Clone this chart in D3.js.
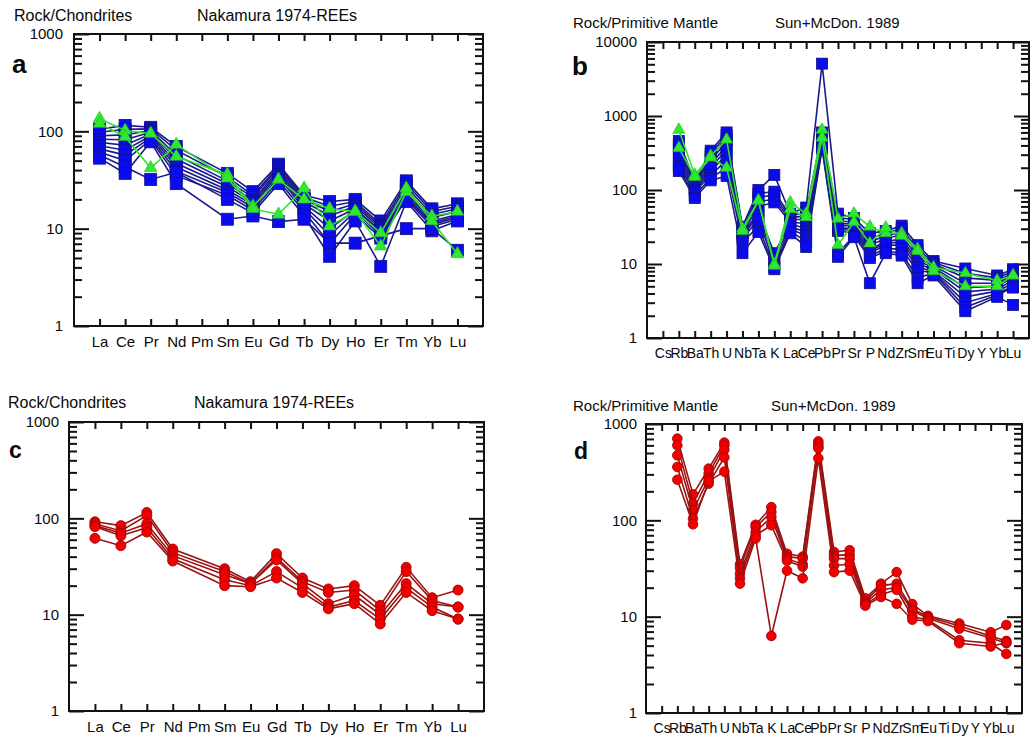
<!DOCTYPE html>
<html>
<head>
<meta charset="utf-8">
<script src="https://cdn.jsdelivr.net/npm/d3@7"></script>
<style>
  html, body { margin: 0; padding: 0; background: #fff; }
  svg { display: block; }
  text { font-family: "Liberation Sans", Arial, sans-serif; fill: #0a0a0a; }
</style>
</head>
<body>
<svg id="chart" width="1030" height="738"></svg>
<script>
// Element orders for the two diagram types
const reeElements = ["La","Ce","Pr","Nd","Pm","Sm","Eu","Gd","Tb","Dy","Ho","Er","Tm","Yb","Lu"];
const spiderElements = ["Cs","Rb","Ba","Th","U","Nb","Ta","K","La","Ce","Pb","Pr","Sr","P","Nd","Zr","Sm","Eu","Ti","Dy","Y","Yb","Lu"];

// Major tick values of the log axes
const reeTicks = [1, 10, 100, 1000];
const spiderTicksB = [1, 10, 100, 1000, 10000];
const spiderTicksD = [1, 10, 100, 1000];

// Panel a: chondrite-normalised REE, blue group
const reeBlueA = [
  [105,115,110,70,null,37,24,46,22,19,20,12,31,16,18],
  [98,105,106,64,null,34,22,44,21,17,19,11,29,15,17],
  [90,92,102,57,null,31,21,42,20,15,18,10.5,27,14,16],
  [83,82,98,52,null,29,19.5,40,19,13.5,17,10,25,13,15],
  [77,72,94,47,null,27,18.5,38,18,12,16,9.5,23.5,12,14],
  [71,64,90,43,null,25,17.5,36,17,10,15.5,9,22,11.5,13.5],
  [66,57,86,39,null,23.5,16.5,34,16,8.5,15,8.5,21,11,13],
  [61,50,82,35,null,22,15.5,31,15,7,14,8,20,10.5,12.5],
  [57,43,32,38,null,20,14.5,29,13.5,5.2,12,4.1,19,9.5,12],
  [53,37,78,29,null,12.5,13.5,11.8,12.5,7.1,7.1,null,10,10,6]
];
// Panel a: green group
const reeGreenA = [
  [135,102,95,55,null,36,17,32,20,16,15,6.6,24,13.4,15],
  [120,88,42,73,null,33,16,14,26,10.6,15,9,26,12,5.5]
];

// Panel b: primitive-mantle-normalised spider, blue group
const spiderBlueB = [
  [null,460,130,340,600,32,100,160,48,58,5100,48,42,26,28,33,18,11,null,8.7,null,7,8.5],
  [null,420,125,310,550,30,90,95,45,50,600,42,40,22,26,30,16,10.5,null,7.5,null,6.5,8],
  [null,380,120,280,500,28,80,85,42,45,550,38,37,20,24,27,14,10,null,6.5,null,6,7.5],
  [null,340,115,250,450,27,70,75,40,40,500,35,35,18,22,25,12,9.5,null,5.5,null,5.5,7],
  [null,300,110,220,400,26,60,68,37,35,470,33,33,16,20,22,11,9,null,4.8,null,5,6.5],
  [null,260,105,200,350,25,50,14,35,30,440,31,30,15,19,20,10,8.5,null,4.2,null,4.6,6],
  [null,230,100,180,300,24,45,12,32,27,420,30,28,14,18,18,9,8,null,3.6,null,4.3,5.5],
  [null,210,95,160,250,22,40,10,30,24,400,28,26,13,16,16,8,7.8,null,3.0,null,4.0,5],
  [null,195,85,145,200,20,32,9,28,20,380,14,24,12,15,14,6.5,7.5,null,2.6,null,3.8,4.8],
  [null,180,78,135,155,14,27,8.5,26,17,360,12.5,23,5.5,14,13,5.5,7,null,2.3,null,3.6,2.8]
];
// Panel b: green group
const spiderGreenB = [
  [null,650,160,290,480,30,72,10,68,48,650,41,48,32,26,26,16,9,null,7.5,null,6,7],
  [null,370,150,275,200,28,72,9.5,55,43,510,18,37,19,31,24,15,8,null,5,null,5,7]
];

// Panel c: chondrite-normalised REE, red group
const reeRedC = [
  [92,84,115,48,null,30,22,43,24,18.5,20,12.5,31,15,18],
  [88,74,107,44,null,28,21,39,22,17,18,11,28,14,12],
  [84,70,88,41,null,26,21,37,21,13,16,10,21,13,12],
  [82,66,80,38,null,23,20,28,19,12,14,9,19,12,9],
  [62,52,72,36,null,20,19.5,24,17,11.5,13,8,17,11,9]
];

// Panel d: primitive-mantle-normalised spider, red group
const spiderRedD = [
  [null,705,186,344,640,35,90,137,45,42,660,47,49,15.5,22,29,13.5,10.2,null,8.5,null,6.9,8.2],
  [null,600,149,305,600,32,85,122,42,40,620,43,44,14.5,21,22,12,10,null,8,null,6.3,5.6],
  [null,473,127,271,540,28,76,108,40,35,580,40,40,14,19,20,11.5,9.6,null,7.5,null,6,5.3],
  [null,358,104,240,450,25,70,89,38,33,560,34,35,13.5,17,19,10,9.3,null,5.7,null,5.3,4.1],
  [null,264,91,255,320,22,65,6.3,30,25,440,29,30,13,16,13.6,9.3,9,null,5.3,null,4.9,5.4]
];

const svg = d3.select("#chart");

const STYLE = {
  blue:  { line: "#1a1a8a", fill: "#0b0bef", stroke: "#10108a", shape: "square" },
  green: { line: "#2fe02f", fill: "#30e830", stroke: "#22c022", shape: "triangle" },
  red:   { line: "#9a1212", fill: "#f20000", stroke: "#a80000", shape: "circle" }
};

function minorTicks(domain) {
  const out = [];
  for (let d = domain[0]; d < domain[1]; d *= 10) {
    for (let k = 2; k <= 9; k++) out.push(d * k);
  }
  return out;
}

function drawPanel(p) {
  const g = svg.append("g");
  const n = p.elements.length;
  const x = d3.scaleLinear().domain([-1, n]).range([p.left, p.right]);
  const y = d3.scaleLog().domain([p.ticks[0], p.ticks[p.ticks.length - 1]]).range([p.bottom, p.top]);

  const tickStroke = (size) => (sel) => {
    sel.select(".domain").remove();
    sel.selectAll(".tick line").attr("stroke", "#111").attr("stroke-width", 2);
    sel.selectAll(".tick text")
      .style("font-family", "'Liberation Sans', Arial, sans-serif")
      .style("font-size", size + "px").attr("fill", "#0a0a0a");
  };

  // left axis: labelled decades + minor ticks
  g.append("g").attr("transform", `translate(${p.left},0)`)
    .call(d3.axisLeft(y).tickValues(p.ticks).tickSize(-15).tickPadding(p.yPad).tickFormat(d3.format("d")))
    .call(tickStroke(p.fontTick));
  g.append("g").attr("transform", `translate(${p.left},0)`)
    .call(d3.axisLeft(y).tickValues(minorTicks(y.domain())).tickSize(-8).tickFormat(""))
    .call(tickStroke(p.fontTick));
  // right axis mirrors the left one
  g.append("g").attr("transform", `translate(${p.right},0)`)
    .call(d3.axisRight(y).tickValues(p.ticks).tickSize(-15).tickFormat(""))
    .call(tickStroke(p.fontTick));
  g.append("g").attr("transform", `translate(${p.right},0)`)
    .call(d3.axisRight(y).tickValues(minorTicks(y.domain())).tickSize(-8).tickFormat(""))
    .call(tickStroke(p.fontTick));
  // category ticks along top and bottom
  const idx = d3.range(n);
  g.append("g").attr("transform", `translate(0,${p.top})`)
    .call(d3.axisTop(x).tickValues(idx).tickSize(-7).tickFormat(""))
    .call(tickStroke(p.fontTick));
  g.append("g").attr("transform", `translate(0,${p.bottom})`)
    .call(d3.axisBottom(x).tickValues(idx).tickSize(-7).tickPadding(10).tickFormat(i => p.elements[i]))
    .call(tickStroke(p.fontX));

  // frame
  g.append("rect")
    .attr("x", p.left).attr("y", p.top)
    .attr("width", p.right - p.left).attr("height", p.bottom - p.top)
    .attr("fill", "none").attr("stroke", "#111").attr("stroke-width", 2);

  // series: line first, then its markers
  const line = d3.line().x(d => x(d.i)).y(d => y(d.v));
  p.groups.forEach(grp => {
    const st = STYLE[grp.style];
    grp.data.forEach(row => {
      const pts = row.map((v, i) => ({ i, v })).filter(d => d.v != null);
      g.append("path").datum(pts).attr("d", line)
        .attr("fill", "none").attr("stroke", st.line).attr("stroke-width", 1.6);
      const m = g.append("g");
      if (st.shape === "square") {
        const s = p.markerSize;
        m.selectAll("rect").data(pts).join("rect")
          .attr("x", d => x(d.i) - s / 2).attr("y", d => y(d.v) - s / 2)
          .attr("width", s).attr("height", s)
          .attr("fill", st.fill).attr("stroke", st.stroke).attr("stroke-width", 0.8);
      } else if (st.shape === "triangle") {
        const sym = d3.symbol(d3.symbolTriangle, p.triSize);
        m.selectAll("path").data(pts).join("path")
          .attr("transform", d => `translate(${x(d.i)},${y(d.v)})`)
          .attr("d", sym).attr("fill", st.fill).attr("stroke", st.stroke).attr("stroke-width", 0.6);
      } else {
        m.selectAll("circle").data(pts).join("circle")
          .attr("cx", d => x(d.i)).attr("cy", d => y(d.v)).attr("r", p.radius)
          .attr("fill", st.fill).attr("stroke", st.stroke).attr("stroke-width", 0.9);
      }
    });
  });

  // headings and panel letter
  g.append("text").attr("x", p.ylabelX).attr("y", p.titleY)
    .style("font-size", p.fontTitle + "px").text(p.ylabel);
  g.append("text").attr("x", p.titleX).attr("y", p.titleY)
    .style("font-size", p.fontTitle + "px").text(p.title);
  g.append("text").attr("x", p.letterX).attr("y", p.letterY)
    .style("font-size", p.letterSize + "px").style("font-weight", "bold").text(p.letter);
}

drawPanel({
  elements: reeElements, ticks: reeTicks,
  left: 74, right: 483, top: 34, bottom: 326, yPad: 11,
  fontTick: 15, fontX: 15, fontTitle: 16, markerSize: 12, triSize: 72,
  groups: [{ style: "blue", data: reeBlueA }, { style: "green", data: reeGreenA }],
  ylabel: "Rock/Chondrites", ylabelX: 14, title: "Nakamura 1974-REEs", titleX: 197, titleY: 21,
  letter: "a", letterX: 12, letterY: 73, letterSize: 26
});

drawPanel({
  elements: spiderElements, ticks: spiderTicksB,
  left: 647, right: 1029, top: 42, bottom: 338, yPad: 10,
  fontTick: 15, fontX: 14, fontTitle: 15, markerSize: 11, triSize: 64,
  groups: [{ style: "blue", data: spiderBlueB }, { style: "green", data: spiderGreenB }],
  ylabel: "Rock/Primitive Mantle", ylabelX: 573, title: "Sun+McDon. 1989", titleX: 775, titleY: 28,
  letter: "b", letterX: 572, letterY: 75, letterSize: 26
});

drawPanel({
  elements: reeElements, ticks: reeTicks,
  left: 69, right: 484, top: 422, bottom: 711, yPad: 10,
  fontTick: 15, fontX: 15, fontTitle: 16, radius: 5,
  groups: [{ style: "red", data: reeRedC }],
  ylabel: "Rock/Chondrites", ylabelX: 8, title: "Nakamura 1974-REEs", titleX: 194, titleY: 408,
  letter: "c", letterX: 9, letterY: 458, letterSize: 23
});

drawPanel({
  elements: spiderElements, ticks: spiderTicksD,
  left: 646, right: 1022, top: 424, bottom: 713, yPad: 9,
  fontTick: 15, fontX: 14, fontTitle: 15, radius: 4.8,
  groups: [{ style: "red", data: spiderRedD }],
  ylabel: "Rock/Primitive Mantle", ylabelX: 573, title: "Sun+McDon. 1989", titleX: 771, titleY: 411,
  letter: "d", letterX: 574, letterY: 459, letterSize: 23
});
</script>
</body>
</html>
